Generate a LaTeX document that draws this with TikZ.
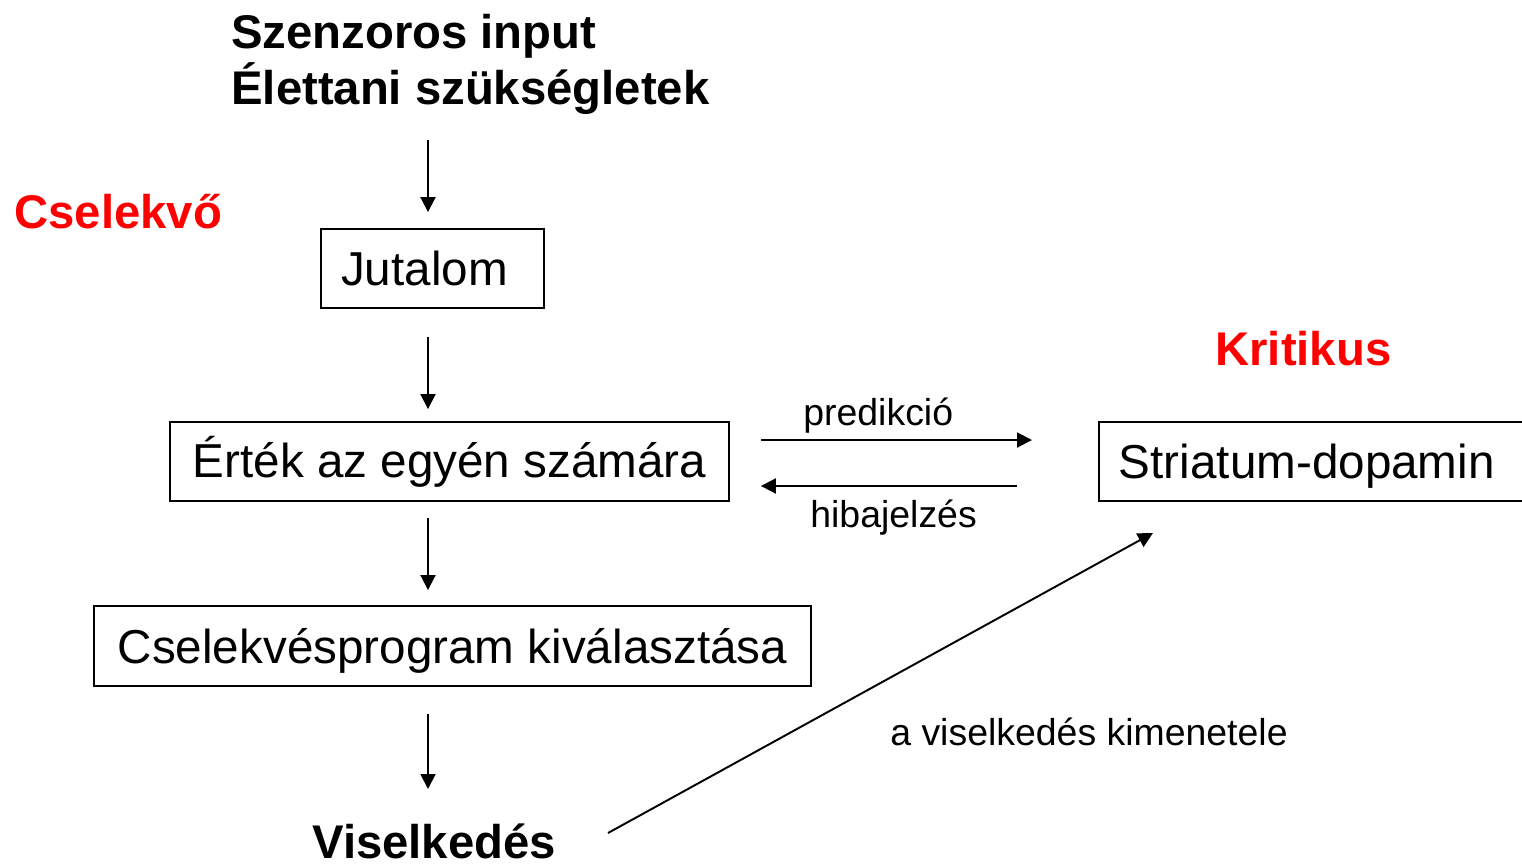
\documentclass[tikz,border=0pt]{standalone}
\usepackage{fontspec}
\setmainfont{Liberation Sans}
\usetikzlibrary{arrows.meta,positioning}
\colorlet{kritColor}{red}
\tikzset{>={Triangle[length=0.3cm,width=0.3cm]}}
\tikzset{
  doboz/.style={draw, line width=1.1pt, inner sep=0pt, minimum height=1.58cm, font=\fontsize{27.1}{32}\selectfont},
  cimke/.style={inner sep=0pt, anchor=base west, font=\fontsize{26.9}{32}\selectfont\bfseries},
  kis/.style={inner sep=0pt, anchor=base west, font=\fontsize{21.3}{25}\selectfont},
  nyil/.style={->, line width=1.1pt}
}

\begin{document}
\begin{tikzpicture}[x=0.02cm, y=-0.02cm]
		\useasboundingbox (0,0) rectangle (1522,866);
		% bal oldal: a cselekvo
		\node[cimke] (szenz) at (231,48) {Szenzoros input};
		\node[cimke] (elet) at (231,104) {Élettani szükségletek};
		\node[cimke, kritColor] (cselekvo) at (14,228) {Cselekvő};
		\node[doboz, minimum width=4.46cm] (jutalom) at (432.5,268.5) {Jutalom\kern0.32cm};
		\node[doboz, minimum width=11.18cm] (ertek) at (449.5,461.5) {Érték az egyén számára};
		\node[doboz, minimum width=14.34cm, minimum height=1.6cm, text depth=0pt] (program) at (452.5,646) {Cselekvésprogram kiválasztása};
		\node[cimke] (viselk) at (312,858) {Viselkedés};
		
		% jobb oldal: a kritikus
		\node[cimke, kritColor] (kritikus) at (1215,365) {Kritikus};
		\node[doboz, anchor=west, text width=8cm, align=left, inner xsep=0.4cm, text depth=0pt] (striatum) at (1098,461.5) {Striatum-dopamin};
		
		\coordinate (tengely) at (428,0);
		\draw[nyil, shorten <=0.52cm, shorten >=0.32cm] (elet.south -| tengely) -- (jutalom.north -| tengely);
		\draw[nyil, shorten <=0.56cm, shorten >=0.24cm] (jutalom.south -| tengely) -- (ertek.north -| tengely);
		\draw[nyil, shorten <=0.32cm, shorten >=0.3cm] (ertek.south -| tengely) -- (program.north -| tengely);
		\draw[nyil, shorten <=0.54cm, shorten >=0.68cm] (program.south -| tengely) -- (viselk.north -| tengely);
		
		\draw[nyil, shorten <=0.62cm, shorten >=1.32cm] ([yshift=0.43cm]ertek.east) -- ([yshift=0.43cm]striatum.west);% predikcio
		\draw[nyil, shorten <=1.62cm, shorten >=0.62cm] ([yshift=-0.49cm]striatum.west) -- ([yshift=-0.49cm]ertek.east);% hibajelzes
		\node[kis] (predikcio) at (803,425) {predikció};
		\node[kis] (hiba) at (810,527) {hibajelzés};
		
		\coordinate (kimenet) at (608,833);
		\draw[nyil] (kimenet) -- ([shift={(55,31)}]striatum.south west);
		\node[kis] (kimenetele) at (890,745) {a viselkedés kimenetele};
\end{tikzpicture}
\end{document}
